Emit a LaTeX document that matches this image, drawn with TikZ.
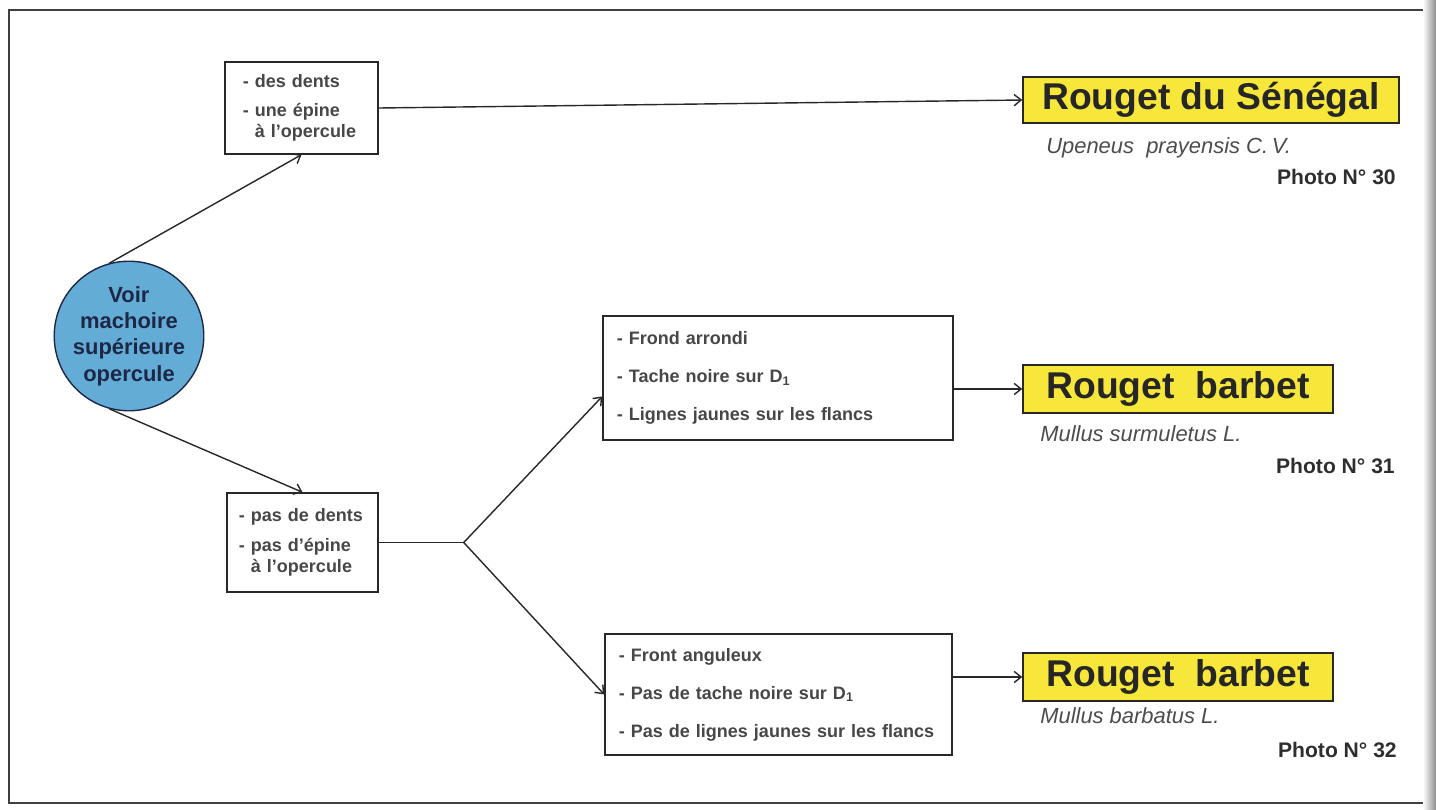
\documentclass[tikz,border=0pt]{standalone}
\usepackage{fontspec}
\setmainfont{Liberation Sans}
\usepackage{tikz}
\usetikzlibrary{arrows.meta,positioning}
\definecolor{cle-yellow}{RGB}{247,231,58}
\definecolor{cle-blue}{RGB}{98,172,214}
\definecolor{cle-navy}{RGB}{30,40,70}
\definecolor{cle-ink}{RGB}{40,40,40}
\tikzset{
  cle-box/.style={draw=cle-ink, fill=white, line width=1pt, align=left, inner ysep=0pt,
    font=\bfseries\fontsize{12.8}{15}\selectfont, text=black!72},
  cle-name/.style={draw=cle-ink, fill=cle-yellow, line width=1pt, inner sep=0pt,
    font=\bfseries\fontsize{26.5}{30}\selectfont, text=black!85},
  cle-latin/.style={anchor=west, inner sep=0pt, font=\itshape\fontsize{15.6}{18}\selectfont, text=black!70},
  cle-photo/.style={anchor=east, inner sep=0pt, font=\bfseries\fontsize{15}{18}\selectfont, text=black!82},
  cle-link/.style={draw=cle-ink, line width=1pt}
}

\begin{document}
\begin{tikzpicture}[>={Straight Barb[length=5pt,width=8pt]}, x=0.025cm, y=-0.025cm]
  \useasboundingbox (0,0) rectangle (1436,810);
  % page frame, right edge cut by the binding
  \draw[line width=1.4pt, black!75] (1436,10) -- (9,10) -- (9,803) -- (1436,803);
  \shade[left color=white, right color=black!45] (1423,0) rectangle (1436,810);
  % start
  \node[circle, draw=cle-navy, line width=1pt, fill=cle-blue, minimum size=3.55cm, inner sep=0pt,
    align=center, font=\bfseries\fontsize{15.6}{18.8}\selectfont, text=cle-navy] (voir) at (129,336)
    {Voir\\machoire\\supérieure\\opercule};
  % first key
  \node[cle-box, minimum height=2.3cm, inner xsep=0.45cm, text width=2.925cm] (cle1) at (301.5,108)
    {- des dents\\[5.5pt]- une épine\\\hphantom{- }à l'opercule};
  \node[cle-box, minimum height=2.475cm, inner xsep=0.3cm, text width=3.175cm] (cle2) at (302.5,542.5)
    {- pas de dents\\[6.5pt]- pas d'épine\\\hphantom{- }à l'opercule};
  \coordinate[right=2.125cm of cle2.east] (fork);
  % second key
  \node[cle-box, font=\bfseries\fontsize{12.8}{27}\selectfont, minimum height=3.1cm, inner xsep=0.35cm,
    text width=8.05cm] (front1) at (778,378)
    {- Frond arrondi\\- Tache noire sur D\textsubscript{1}\\- Lignes jaunes sur les flancs};
  \node[cle-box, font=\bfseries\fontsize{12.8}{27}\selectfont, minimum height=3.025cm, inner xsep=0.35cm,
    text width=7.975cm] (front2) at (778.5,694.5)
    {- Front anguleux\\- Pas de tache noire sur D\textsubscript{1}\\- Pas de lignes jaunes sur les flancs};
  % species
  \node[cle-name, minimum width=9.4cm, minimum height=1.15cm] (senegal) at (1211,100) {Rouget du Sénégal};
  \node[cle-name, minimum width=7.75cm, minimum height=1.2cm] (surmulet) at (1178,389) {Rouget~~barbet};
  \node[cle-name, minimum width=7.75cm, minimum height=1.2cm] (barbatus) at (1178,677) {Rouget~~barbet};
  \node[cle-latin] (lat1) at (1046,148) {Upeneus~~prayensis C.\,V.};
  \node[cle-latin] (lat2) at (1040,434) {Mullus surmuletus L.};
  \node[cle-latin] (lat3) at (1040,716) {Mullus barbatus L.};
  \node[cle-photo] (ph1) at (1396,177) {Photo N° 30};
  \node[cle-photo] (ph2) at (1395,466) {Photo N° 31};
  \node[cle-photo] (ph3) at (1397,750) {Photo N° 32};
  % links
  \draw[cle-link, ->] (voir.105) -- (cle1.south);
  \draw[cle-link, ->] (voir.255) -- (cle2.north);
  \draw[cle-link, ->] (cle1.east) -- (senegal.west);
  \draw[cle-link] (cle2.east) -- (fork);
  \draw[cle-link, ->] (fork) -- (front1.186);
  \draw[cle-link, ->] (fork) -- (front2.west);
  \draw[cle-link, ->] (front1.east |- surmulet.west) -- (surmulet.west);
  \draw[cle-link, ->] (front2.east |- barbatus.west) -- (barbatus.west);
\end{tikzpicture}
\end{document}
